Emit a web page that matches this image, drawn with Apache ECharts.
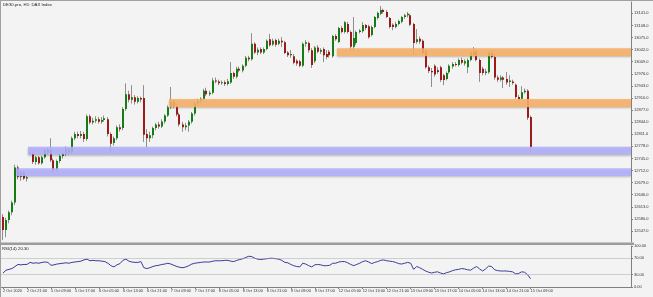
<!DOCTYPE html>
<html><head><meta charset="utf-8">
<script src="https://cdn.jsdelivr.net/npm/echarts@6/dist/echarts.min.js"></script>
<style>html,body{margin:0;padding:0;background:#f3f3f3;}#c{width:653px;height:297px;}</style>
</head><body><div id="c"></div>
<script>
const titleText = 'DE30.pro, H1: DAX Index';
const rsiTitle = 'RSI(14) 20.30';
const tickLabels = ['2 Oct 2020','2 Oct 21:00','5 Oct 09:00','5 Oct 17:00','6 Oct 05:00','6 Oct 13:00','6 Oct 21:00','7 Oct 09:00','7 Oct 17:00','8 Oct 05:00','8 Oct 13:00','8 Oct 21:00','9 Oct 09:00','9 Oct 17:00','12 Oct 05:00','12 Oct 13:00','12 Oct 21:00','13 Oct 09:00','13 Oct 17:00','14 Oct 05:00','14 Oct 13:00','14 Oct 21:00','15 Oct 09:00'];
const priceTicks = [13141,13108,13075,13042,13009,12976,12943,12910,12877,12844,12811,12778,12745,12712,12679,12646,12613,12580,12547];
const rsiTicks = [0,30,70,100];
const rsiLevels = [70,30];

const open = [
12585,12550,12577,12598,12625,12720,12695,12706,12690,12760,
12757,12735,12748,12732,12748,12768,12768,12740,12715,12738,
12752,12758,12770,12762,12800,12812,12806,12812,12798,12860,
12843,12848,12852,12845,12850,12852,12812,12787,12800,12830,
12828,12880,12920,12905,12912,12900,12910,12910,12812,12800,
12808,12828,12838,12832,12846,12862,12885,12900,12888,12865,
12838,12830,12835,12845,12868,12895,12902,12908,12930,12920,
12924,12958,12955,12950,12953,12948,12952,12978,12968,12990,
12985,12998,13020,13016,13058,13034,13044,13034,13044,13070,
13056,13068,13058,13066,13062,13034,13027,13024,13012,13010,
12998,13058,13060,13040,13010,13048,13036,13044,13030,13036,
13024,13079,13063,13101,13090,13112,13090,13050,13060,13090,
13092,13109,13106,13082,13104,13128,13140,13150,13145,13128,
13110,13104,13112,13118,13131,13136,13136,13112,13063,13072,
13066,13038,12994,12984,12998,12986,12994,12972,12962,12980,
12996,13003,13000,13014,13004,12994,13014,13035,13038,13014,
12990,12978,12980,13033,13022,12966,12960,12966,12962,12954,
12955,12946,12913,12908,12926,12930,12858];
const close = [
12550,12577,12598,12625,12720,12695,12706,12690,12694,12760,
12735,12748,12732,12748,12768,12762,12740,12712,12738,12752,
12758,12772,12762,12800,12812,12806,12812,12798,12860,12843,
12848,12852,12845,12850,12855,12812,12785,12800,12830,12825,
12880,12920,12905,12912,12900,12910,12906,12810,12800,12808,
12828,12838,12832,12846,12862,12885,12900,12888,12865,12838,
12830,12835,12845,12868,12895,12902,12908,12930,12920,12924,
12958,12955,12950,12953,12948,12956,12978,12968,12990,12985,
12998,13020,13016,13058,13034,13042,13034,13044,13066,13054,
13066,13055,13066,13062,13033,13027,13030,13006,13004,12998,
13058,13062,13040,13000,13048,13036,13041,13027,13022,13027,
13079,13070,13101,13090,13117,13090,13050,13074,13090,13094,
13109,13101,13076,13104,13131,13142,13150,13145,13131,13104,
13104,13112,13120,13131,13136,13140,13110,13060,13070,13064,
13033,12994,12984,12980,12974,12981,12959,12959,12978,12998,
13003,13000,13014,13006,13010,13014,13035,13028,13014,12978,
12978,12982,13033,13022,12966,12960,12966,12960,12952,12958,
12951,12913,12906,12926,12930,12856,12776];
const high = [
12593,12583,12603,12630,12728,12726,12712,12712,12700,12763,
12762,12752,12752,12752,12772,12775,12800,12745,12742,12756,
12765,12778,12776,12805,12818,12818,12820,12818,12865,12865,
12856,12860,12858,12858,12862,12858,12816,12805,12835,12838,
12885,12950,12930,12945,12918,12915,12914,12945,12825,12818,
12832,12842,12845,12852,12866,12890,12940,12906,12892,12870,
12845,12842,12850,12872,12900,12908,12912,12935,12938,12930,
12965,12966,12960,12958,12958,12962,13008,12982,12995,12996,
13002,13025,13025,13087,13062,13048,13048,13048,13070,13085,
13072,13072,13072,13076,13066,13038,13041,13030,13016,13014,
13062,13068,13064,13046,13052,13054,13046,13048,13041,13041,
13082,13084,13104,13106,13120,13118,13094,13131,13094,13098,
13117,13112,13110,13108,13134,13146,13161,13154,13150,13131,
13114,13118,13124,13134,13140,13145,13140,13115,13098,13078,
13070,13042,12999,12992,13002,12994,12998,12976,12982,13002,
13008,13008,13018,13020,13016,13018,13040,13049,13044,13018,
12995,12990,13036,13041,13030,12972,12972,12970,12981,12972,
12960,12950,12918,12942,12936,12934,12862];
const low = [
12522,12530,12568,12590,12618,12688,12684,12686,12682,12757,
12730,12728,12728,12728,12744,12756,12735,12705,12710,12732,
12745,12752,12755,12758,12795,12800,12800,12790,12793,12838,
12838,12842,12840,12840,12845,12805,12760,12780,12795,12818,
12822,12875,12898,12895,12892,12895,12898,12790,12776,12790,
12800,12822,12826,12828,12840,12858,12880,12882,12860,12832,
12818,12822,12818,12840,12862,12890,12896,12903,12915,12915,
12920,12950,12945,12946,12943,12944,12948,12962,12963,12980,
12980,12994,13010,13012,13030,13027,13030,13030,13040,13050,
13052,13050,13054,13049,13030,13022,13020,13002,12998,12994,
12994,13050,13034,12992,13005,13032,13030,13008,13016,13020,
13020,13066,13060,13086,13086,13086,13041,13041,13055,13086,
13088,13096,13072,13078,13100,13124,13136,13140,13128,13100,
13095,13100,13108,13114,13126,13130,13106,13027,13058,13058,
13030,12990,12978,12940,12968,12976,12954,12945,12958,12976,
12990,12996,12996,13002,12998,12978,13010,13024,13010,12954,
12972,12972,12976,13018,12960,12954,12955,12937,12946,12940,
12946,12908,12900,12904,12922,12850,12762];
const rsi = [
34,41,43,45,50,55,54,55,55,60,
58,59,58,60,61,60,53,54,56,57,
58,59,58,60,61,62,63,66,68,64,
65,64,64,63,62,58,52,49,54,57,
65,68,63,61,60,60,62,47,45,47,
50,52,53,55,56,58,56,53,50,48,
47,49,52,56,58,59,60,61,61,61,
63,64,64,64,65,65,63,62,65,67,
69,72,75,74,70,68,67,68,69,70,
70,69,68,65,60,59,55,52,50,49,
58,56,52,49,54,55,54,52,52,53,
58,58,61,62,62,59,55,52,55,58,
62,64,61,57,60,62,65,66,64,63,
62,60,57,56,58,60,58,43,50,47,
43,39,36,34,36,37,34,32,35,37,
40,42,43,45,44,42,41,46,50,44,
39,44,51,50,42,40,39,39,39,38,
37,32,33,37,36,30,20];

// zones (support = blue, resistance = orange)
const bandKind  = ['support','support','resistance','resistance'];
const bandStart = [5, 9, 56, 112];
const bandEnd   = [209, 209, 209, 209];
const bandLow   = [12697, 12756, 12885, 13024];
const bandHigh  = [12718, 12777, 12907, 13046];

const slotCount = 210;
const slots = Array.from({length: slotCount}, (_, i) => String(i));

const FONT = 'Liberation Sans';
const chart = echarts.init(document.getElementById('c'), null, {renderer: 'canvas'});

function renderCandle(params, api) {
  const i = api.value(0), o = api.value(1), c = api.value(2), l = api.value(3), h = api.value(4);
  const po = api.coord([i, o]), pc = api.coord([i, c]), pl = api.coord([i, l]), ph = api.coord([i, h]);
  const cx = Math.round(po[0]);
  const up = c >= o;
  const top = Math.min(po[1], pc[1]), bot = Math.max(po[1], pc[1]);
  return {type: 'group', children: [
    {type: 'line', shape: {x1: cx - 0.5, y1: ph[1], x2: cx - 0.5, y2: pl[1]}, style: {stroke: '#8e8e8e', lineWidth: 1}},
    {type: 'rect', shape: {x: cx - 1, y: top, width: 2, height: Math.max(1, bot - top)}, style: {fill: up ? '#167d16' : '#9b1b1b'}}
  ]};
}
function renderBand(params, api) {
  const k = params.dataIndex;
  const s = api.value(0), e = api.value(1), lo = api.value(2), hi = api.value(3);
  const a = api.coord([s, hi]), b = api.coord([e, lo]);
  const half = api.size([1, 0])[0] / 2;
  const fill = bandKind[k] === 'support' ? 'rgba(176,176,252,0.88)' : 'rgba(250,178,104,0.88)';
  return {type: 'rect', shape: {x: a[0] - half, y: a[1], width: (b[0] + half) - (a[0] - half), height: b[1] - a[1]},
    style: {fill: fill, shadowColor: 'rgba(0,0,0,0.28)', shadowBlur: 2, shadowOffsetY: 1.2}};
}

const tickIdx = (idx) => idx % 8 === 0 && idx / 8 < tickLabels.length;

chart.setOption({
  animation: false,
  backgroundColor: '#f3f3f3',
  grid: [
    {left: 1, top: 2, width: 630, height: 240},
    {left: 1, top: 246, width: 630, height: 41}
  ],
  xAxis: [
    {type: 'category', gridIndex: 0, data: slots, boundaryGap: true,
     axisLine: {show: false}, axisTick: {show: false}, axisLabel: {show: false}, splitLine: {show: false}},
    {type: 'category', gridIndex: 1, data: slots, boundaryGap: true,
     axisLine: {show: true, lineStyle: {color: '#808080', width: 1}},
     axisTick: {show: true, interval: tickIdx, alignWithLabel: true, length: 2, lineStyle: {color: '#808080'}},
     axisLabel: {show: true, interval: tickIdx, align: 'left', margin: 2, fontSize: 3.9, fontFamily: FONT, color: '#333',
       formatter: (v) => tickLabels[Number(v) / 8] || ''},
     splitLine: {show: false}}
  ],
  yAxis: [
    {type: 'value', gridIndex: 0, position: 'right', min: 12517, max: 13172, scale: true,
     axisLine: {show: true, lineStyle: {color: '#808080'}},
     axisTick: {show: true, length: 2, customValues: priceTicks, lineStyle: {color: '#808080'}},
     axisLabel: {show: true, customValues: priceTicks, margin: 3, fontSize: 4, fontFamily: FONT, color: '#333',
       formatter: (v) => v.toFixed(1)},
     splitLine: {show: false}},
    {type: 'value', gridIndex: 1, position: 'right', min: 0, max: 100,
     axisLine: {show: true, lineStyle: {color: '#808080'}},
     axisTick: {show: true, length: 2, customValues: rsiTicks, lineStyle: {color: '#808080'}},
     axisLabel: {show: true, customValues: rsiTicks, margin: 3, fontSize: 4, fontFamily: FONT, color: '#333',
       formatter: (v) => v.toFixed(2)},
     splitLine: {show: false}}
  ],
  series: [
    {type: 'custom', name: 'DE30', xAxisIndex: 0, yAxisIndex: 0, z: 2, clip: true,
     renderItem: renderCandle,
     data: open.map((o, i) => [i, o, close[i], low[i], high[i]])},
    {type: 'custom', name: 'zones', xAxisIndex: 0, yAxisIndex: 0, z: 5, clip: true,
     renderItem: renderBand,
     data: bandStart.map((s, k) => [s, bandEnd[k], bandLow[k], bandHigh[k]])},
    {type: 'line', name: 'RSI', xAxisIndex: 1, yAxisIndex: 1, data: rsi, symbol: 'none',
     lineStyle: {color: '#3b3b9e', width: 1}, z: 3,
     markLine: {silent: true, symbol: ['none', 'none'], label: {show: false},
       lineStyle: {type: 'dotted', color: '#a8a8a8', width: 1},
       data: rsiLevels.map(v => ({yAxis: v}))}}
  ],
  graphic: [
    {type: 'rect', shape: {x: 0, y: 0, width: 653, height: 1}, style: {fill: '#a0a0a0'}, silent: true},
    {type: 'rect', shape: {x: 0, y: 0, width: 1, height: 297}, style: {fill: '#a0a0a0'}, silent: true},
    {type: 'rect', shape: {x: 0, y: 242.5, width: 634, height: 2.5}, style: {fill: '#9c9c9c'}, silent: true, z: 10},
    {type: 'text', x: 3, y: 3, style: {text: titleText, fontSize: 4.3, fontFamily: FONT, fill: '#222'}, silent: true},
    {type: 'text', x: 2, y: 247, style: {text: rsiTitle, fontSize: 4.3, fontFamily: FONT, fill: '#222'}, silent: true}
  ]
});
</script></body></html>
